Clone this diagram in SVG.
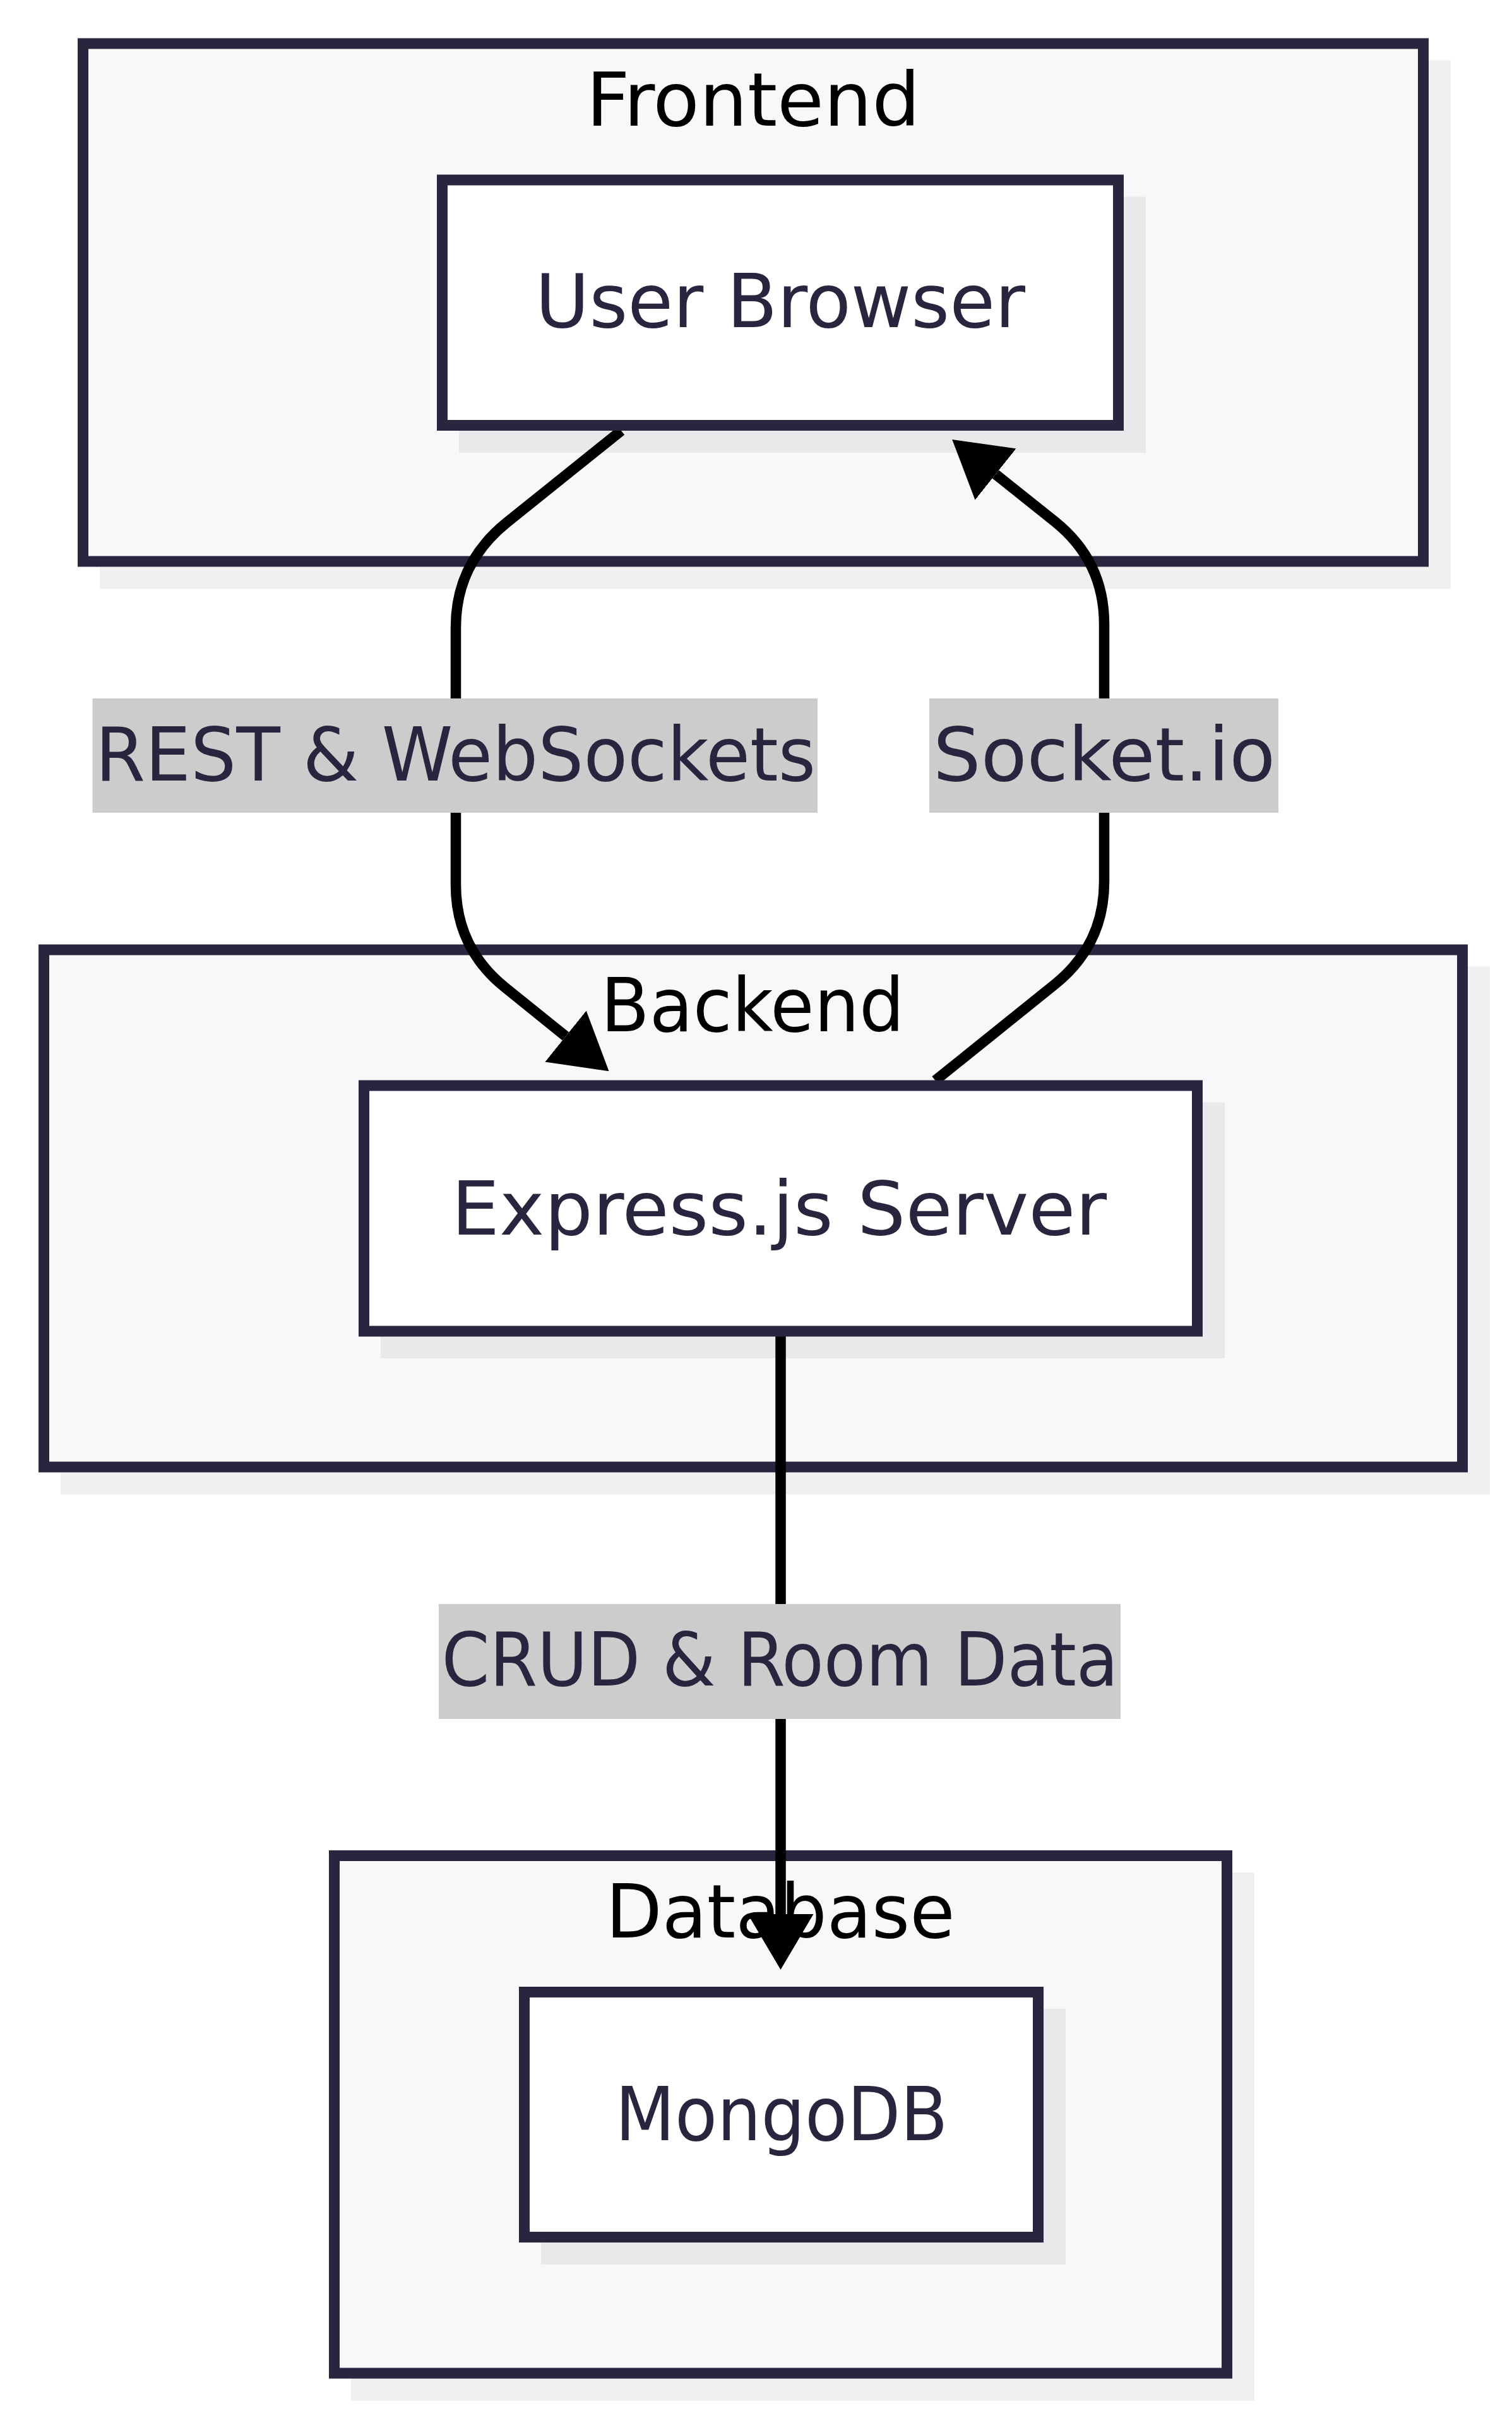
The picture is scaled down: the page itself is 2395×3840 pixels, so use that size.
<svg xmlns="http://www.w3.org/2000/svg" width="2395" height="3840" viewBox="0 0 2395 3840">
<style>
.bg{fill:#ffffff}
.shadow{fill:#000000;fill-opacity:0.06}
.cluster{fill:#f8f8fa;stroke:#28263e;stroke-width:17}
.node{fill:#ffffff;stroke:#28263e;stroke-width:17}
.title{font-family:"DejaVu Sans Condensed","DejaVu Sans",sans-serif;font-size:117px;fill:#000000;text-anchor:middle}
.ntext{font-family:"DejaVu Sans Condensed","DejaVu Sans",sans-serif;font-size:117px;fill:#28263e;text-anchor:middle}
.edge{fill:none;stroke:#000000;stroke-width:16.5;stroke-linejoin:round}
.lblbg{fill:#cccccc}
</style>
<defs>
<marker id="arrow" markerUnits="userSpaceOnUse" viewBox="0 0 88 104" markerWidth="88" markerHeight="104" refX="0" refY="52" orient="auto">
<path d="M0,0 L88,52 L0,104 z" fill="#000000"/>
</marker>
</defs>
<rect class="bg" x="0" y="0" width="2395" height="3840"/>

<g id="cluster-frontend">
<rect class="shadow" x="158" y="95.5" width="2140" height="837"/>
<rect class="cluster" x="131.5" y="69" width="2123" height="820"/>
<text class="title" x="1193" y="198.5" textLength="529" lengthAdjust="spacingAndGlyphs">Frontend</text>
</g>
<g id="cluster-backend">
<rect class="shadow" x="96" y="1530.5" width="2264" height="836"/>
<rect class="cluster" x="69.5" y="1504" width="2247" height="819"/>
<text class="title" x="1192" y="1633" textLength="481" lengthAdjust="spacingAndGlyphs">Backend</text>
</g>
<g id="cluster-database">
<rect class="shadow" x="556" y="2965" width="1431" height="836.5"/>
<rect class="cluster" x="529.5" y="2938.5" width="1414" height="819.5"/>
<text class="title" x="1236" y="3068" textLength="553" lengthAdjust="spacingAndGlyphs">Database</text>
</g>

<g id="connectors">
<path id="edge-browser-server" class="edge" marker-end="url(#arrow)" d="M984,682 L802,828 Q722,893 722,993 L722,1401 Q722,1501 800,1563.6 L896,1641"/>
<path id="edge-server-browser" class="edge" marker-end="url(#arrow)" d="M1481.5,1711 L1671,1558.6 Q1749,1496 1749,1396 L1749,988.6 Q1749,888.6 1671,826 L1577,751"/>
<path id="edge-server-mongo" class="edge" marker-end="url(#arrow)" d="M1236.5,2116 L1236.5,3031"/>
</g>

<g id="edge-labels">
<g id="label-rest">
<rect class="lblbg" x="146.5" y="1106" width="1148.5" height="181"/>
<text class="ntext" x="721.5" y="1236" textLength="1141" lengthAdjust="spacingAndGlyphs">REST &amp; WebSockets</text>
</g>
<g id="label-socketio">
<rect class="lblbg" x="1472" y="1106" width="553" height="181"/>
<text class="ntext" x="1749" y="1236" textLength="542" lengthAdjust="spacingAndGlyphs">Socket.io</text>
</g>
<g id="label-crud">
<rect class="lblbg" x="695" y="2540" width="1080" height="182"/>
<text class="ntext" x="1235.5" y="2669" textLength="1072" lengthAdjust="spacingAndGlyphs">CRUD &amp; Room Data</text>
</g>
</g>

<g id="node-user-browser">
<rect class="shadow" x="727" y="311.5" width="1088" height="405.5"/>
<rect class="node" x="700.5" y="285" width="1071" height="388.5"/>
<text class="ntext" x="1236" y="518" textLength="776" lengthAdjust="spacingAndGlyphs">User Browser</text>
</g>
<g id="node-express-server">
<rect class="shadow" x="603" y="1745.5" width="1337" height="405.5"/>
<rect class="node" x="576.5" y="1719" width="1320" height="389"/>
<text class="ntext" x="1234" y="1955" textLength="1038" lengthAdjust="spacingAndGlyphs">Express.js Server</text>
</g>
<g id="node-mongodb">
<rect class="shadow" x="857" y="3181" width="831" height="405"/>
<rect class="node" x="830.5" y="3154.5" width="814" height="388"/>
<text class="ntext" x="1238" y="3389" textLength="527" lengthAdjust="spacingAndGlyphs">MongoDB</text>
</g>
</svg>
